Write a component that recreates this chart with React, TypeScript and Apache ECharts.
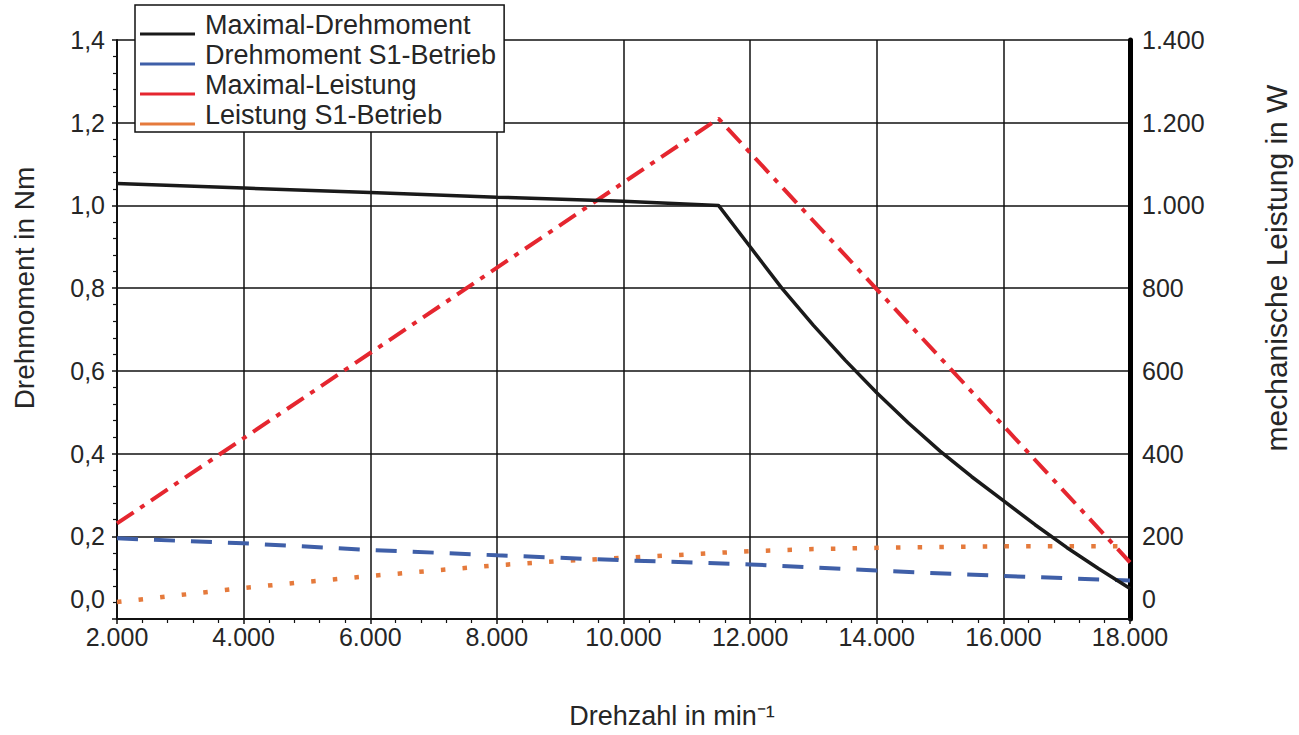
import React, { useEffect, useRef } from 'react';
import * as echarts from 'echarts';

// Drehzahl (min^-1) / Drehmoment (Nm) / Leistung (W)
const speedMaxTorque = [2000, 4000, 6000, 8000, 10000, 11500, 12000, 12500, 13000, 13500, 14000, 14500, 15000, 15500, 16000, 16500, 17000, 17500, 18000];
const maxTorque = [1.053, 1.042, 1.031, 1.02, 1.01, 1.0, 0.9, 0.8, 0.71, 0.626, 0.547, 0.474, 0.406, 0.344, 0.286, 0.228, 0.173, 0.122, 0.074];

const speedS1Torque = [2000, 4000, 6000, 8000, 10000, 12000, 14000, 16000, 18000];
const s1Torque = [0.195, 0.183, 0.167, 0.154, 0.142, 0.132, 0.117, 0.104, 0.093];

const speedMaxPower = [2000, 11500, 18000];
const maxPower = [231, 1210, 137];

const speedS1Power = [2000, 3000, 4000, 5000, 6000, 7000, 8000, 9000, 10000, 11000, 12000, 13000, 14000, 15000, 16000, 17000, 18000];
const s1Power = [41, 58, 75, 90, 104, 117, 130, 140, 148, 156, 164, 169, 172, 174, 176, 176, 176];

const seriesNames = ['Maximal-Drehmoment', 'Drehmoment S1-Betrieb', 'Maximal-Leistung', 'Leistung S1-Betrieb'];

const xMin = 2000, xMax = 18000, xStep = 2000;
const yLeftMin = 0, yLeftMax = 1.4, yLeftStep = 0.2;
const yRightMin = 0, yRightMax = 1400, yRightStep = 200;

const FONT = '"Liberation Sans", Arial, Helvetica, sans-serif';
const TXT = '#262626';

const pair = (xs: number[], ys: number[]) => xs.map((x, i) => [x, ys[i]]);
const thousands = (v: number) => {
  const n = Math.round(v);
  if (Math.abs(n) < 1000) return String(n);
  return Math.floor(n / 1000) + '.' + String(n % 1000).padStart(3, '0');
};

export default function App() {
  const ref = useRef<HTMLDivElement>(null);
  useEffect(() => {
    if (!ref.current) return;
    const chart = echarts.init(ref.current, null, { renderer: 'svg' });
    chart.setOption({
      animation: false,
      backgroundColor: '#ffffff',
      textStyle: { fontFamily: FONT },
      grid: { left: 117, right: 169, top: 40, bottom: 116, containLabel: false },
      legend: {
        orient: 'vertical',
        left: 135,
        top: 5,
        data: seriesNames,
        selectedMode: false,
        backgroundColor: '#ffffff',
        borderColor: '#111111',
        borderWidth: 1.5,
        padding: [6, 8, 4, 5],
        itemGap: 3,
        itemWidth: 55,
        itemHeight: 26,
        icon: 'path://M0,0 M0,21 L55,21 L55,24 L0,24 Z M55,26',
        itemStyle: { borderWidth: 0 },
        textStyle: { fontSize: 27, color: TXT, fontFamily: FONT, padding: [0, 0, 0, 5] },
      },
      xAxis: {
        type: 'value',
        min: xMin,
        max: xMax,
        interval: xStep,
        axisLine: { show: true, onZero: false, lineStyle: { color: '#111111', width: 2 } },
        axisTick: { show: true, length: 5, lineStyle: { color: '#111111', width: 1.5 } },
        minorTick: { show: true, splitNumber: 5, length: 4, lineStyle: { color: '#111111', width: 1.2 } },
        splitLine: { show: true, lineStyle: { color: '#111111', width: 1.5 } },
        axisLabel: { fontSize: 25, color: TXT, margin: 5, fontFamily: FONT, formatter: (v: number) => thousands(v) },
      },
      yAxis: [
        {
          type: 'value',
          position: 'left',
          min: yLeftMin,
          max: yLeftMax,
          interval: yLeftStep,
          axisLine: { show: true, lineStyle: { color: '#111111', width: 2 } },
          axisTick: { show: true, length: 5, lineStyle: { color: '#111111', width: 1.5 } },
          minorTick: { show: true, splitNumber: 5, length: 4, lineStyle: { color: '#111111', width: 1.2 } },
          splitLine: { show: true, lineStyle: { color: '#111111', width: 1.5 } },
          axisLabel: {
            fontSize: 25,
            color: TXT,
            margin: 12,
            fontFamily: FONT,
            padding: [0, 0, 8, 0],
            verticalAlignMinLabel: 'bottom',
            formatter: (v: number) => v.toFixed(1).replace('.', ','),
          },
        },
        {
          type: 'value',
          position: 'right',
          min: yRightMin,
          max: yRightMax,
          interval: yRightStep,
          axisLine: { show: true, lineStyle: { color: '#000000', width: 5 } },
          axisTick: { show: false },
          splitLine: { show: false },
          axisLabel: {
            fontSize: 25,
            color: TXT,
            margin: 12,
            fontFamily: FONT,
            padding: [0, 0, 8, 0],
            verticalAlignMinLabel: 'bottom',
            formatter: (v: number) => thousands(v),
          },
        },
      ],
      graphic: [
        {
          type: 'text',
          x: 24,
          y: 288,
          rotation: Math.PI / 2,
          style: { text: 'Drehmoment in Nm', font: `28px ${FONT}`, fill: TXT, align: 'center', verticalAlign: 'middle' },
        },
        {
          type: 'text',
          x: 1276,
          y: 268,
          rotation: Math.PI / 2,
          style: { text: 'mechanische Leistung in W', font: `30px ${FONT}`, fill: TXT, align: 'center', verticalAlign: 'middle' },
        },
        {
          type: 'text',
          x: 672,
          y: 716,
          style: { text: 'Drehzahl in min⁻¹', font: `27px ${FONT}`, fill: TXT, align: 'center', verticalAlign: 'middle' },
        },
      ],
      series: [
        {
          name: seriesNames[0],
          type: 'line',
          yAxisIndex: 0,
          data: pair(speedMaxTorque, maxTorque),
          showSymbol: false,
          color: '#1a1a1a',
          lineStyle: { color: '#1a1a1a', width: 3.5, type: 'solid' },
          z: 5,
        },
        {
          name: seriesNames[1],
          type: 'line',
          yAxisIndex: 0,
          data: pair(speedS1Torque, s1Torque),
          showSymbol: false,
          color: '#3f5fa8',
          lineStyle: { color: '#3f5fa8', width: 4, type: [21, 16] },
          z: 4,
        },
        {
          name: seriesNames[2],
          type: 'line',
          yAxisIndex: 1,
          data: pair(speedMaxPower, maxPower),
          showSymbol: false,
          color: '#e5262f',
          lineStyle: { color: '#e5262f', width: 4, type: [20, 8, 5, 8] },
          z: 4,
        },
        {
          name: seriesNames[3],
          type: 'line',
          yAxisIndex: 1,
          data: pair(speedS1Power, s1Power),
          showSymbol: false,
          color: '#e57a3c',
          lineStyle: { color: '#e57a3c', width: 4.5, type: [4.5, 17.2] },
          z: 3,
        },
      ],
    });
    return () => chart.dispose();
  }, []);
  return (
    <div
      ref={ref}
      style={{ position: 'absolute', left: 0, top: 0, width: 1299, height: 735, background: '#fff' }}
    />
  );
}
